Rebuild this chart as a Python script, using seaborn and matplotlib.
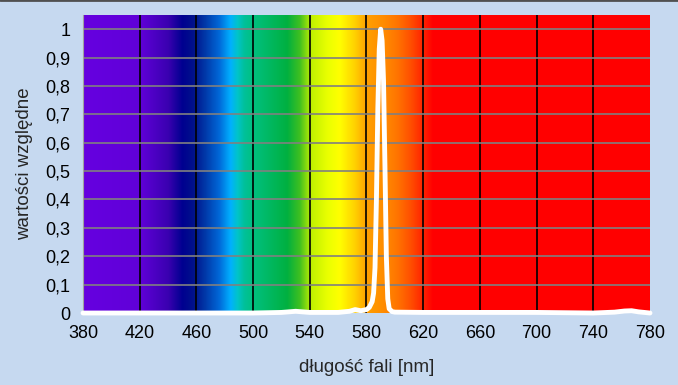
import numpy as np
import matplotlib
matplotlib.use("Agg")
import matplotlib.pyplot as plt
from matplotlib.colors import LinearSegmentedColormap
from matplotlib.ticker import FuncFormatter
import seaborn as sns

# emission spectrum (relative values)
wavelength = [380, 420, 460, 500, 520, 530, 535, 540, 560, 568, 572, 576, 580, 582, 584,
              585, 586, 587, 588, 589, 590, 591, 592, 593, 594, 595, 596, 598, 600, 620, 660,
              700, 740, 755, 762, 767, 772, 780]
intensity = [0.0, 0.0, 0.0, 0.0, 0.002, 0.006, 0.004, 0.002, 0.002, 0.006, 0.012, 0.008, 0.012, 0.02, 0.04,
             0.07, 0.16, 0.4, 0.72, 0.93, 1.0, 0.96, 0.82, 0.52, 0.2, 0.05, 0.015, 0.005, 0.003, 0.002, 0.002,
             0.002, 0.0, 0.003, 0.007, 0.008, 0.004, 0.0]

# spectrum background colour stops
spec_nm = [380, 420, 440, 450, 458, 466, 476, 484, 489, 494, 500, 524, 533, 541, 552, 561,
           572, 580, 592, 602, 611, 619, 627, 780]
spec_col = ["#6600e0", "#6000d8", "#3a00b0", "#000090", "#00128c", "#0038a8", "#0068d8",
            "#00b0ff", "#00c4c8", "#00c098", "#00c080", "#00b040", "#40c020", "#c0f000",
            "#e8ff00", "#ffff00", "#ffd000", "#ffa000", "#ff8c00", "#ff7400", "#ff5000",
            "#ff2800", "#ff0000", "#ff0000"]

x_ticks = [380, 420, 460, 500, 540, 580, 620, 660, 700, 740, 780]
y_ticks = [0, 0.1, 0.2, 0.3, 0.4, 0.5, 0.6, 0.7, 0.8, 0.9, 1]

bg = "#c6d9f0"
sns.set_style("white", {"axes.facecolor": bg, "figure.facecolor": bg})
plt.rcParams["font.family"] = ["Liberation Sans", "DejaVu Sans"]

fig = plt.figure(figsize=(6.78, 3.85), dpi=100)
ax = fig.add_axes([83 / 678, (385 - 313) / 385, 567 / 678, 298 / 385])

pos = [(v - 380) / 400 for v in spec_nm]
cmap = LinearSegmentedColormap.from_list("spec", list(zip(pos, spec_col)), N=1024)
grad = np.linspace(0, 1, 1600).reshape(1, -1)
ax.imshow(grad, cmap=cmap, aspect="auto", extent=[380, 780, 0, 1.05], zorder=0,
          interpolation="bilinear")

for v in x_ticks[1:-1]:
    ax.axvline(v, color="black", lw=1.2, zorder=1)
for v in y_ticks[1:]:
    ax.axhline(v, color="#808080", lw=1.2, zorder=1)

sns.lineplot(x=wavelength, y=intensity, ax=ax, color="white", lw=3.5, zorder=3)
ax.lines[-1].set_clip_on(False)

ax.set_xlim(380, 780)
ax.set_ylim(0, 1.05)
ax.set_xticks(x_ticks)
ax.set_yticks(y_ticks)
ax.yaxis.set_major_formatter(FuncFormatter(lambda v, p: ("%g" % round(v, 1)).replace(".", ",")))
ax.tick_params(axis="both", which="major", length=4, width=1, color="#909090",
               labelsize=13, colors="black", direction="out")
ax.tick_params(axis="x", pad=5)
ax.tick_params(axis="y", pad=5)
for s in ["top", "right"]:
    ax.spines[s].set_visible(False)
ax.spines["left"].set_color("#a0a0a0")
ax.spines["bottom"].set_visible(False)

ax.set_xlabel("długość fali [nm]", fontsize=13.5, labelpad=12)
ax.set_ylabel("wartości względne", fontsize=13.5, labelpad=9)

fig.add_artist(plt.Line2D([0, 1], [0.999, 0.999], color="#505050", lw=2,
                          transform=fig.transFigure))

fig.savefig("out.png", dpi=100, facecolor=bg)
